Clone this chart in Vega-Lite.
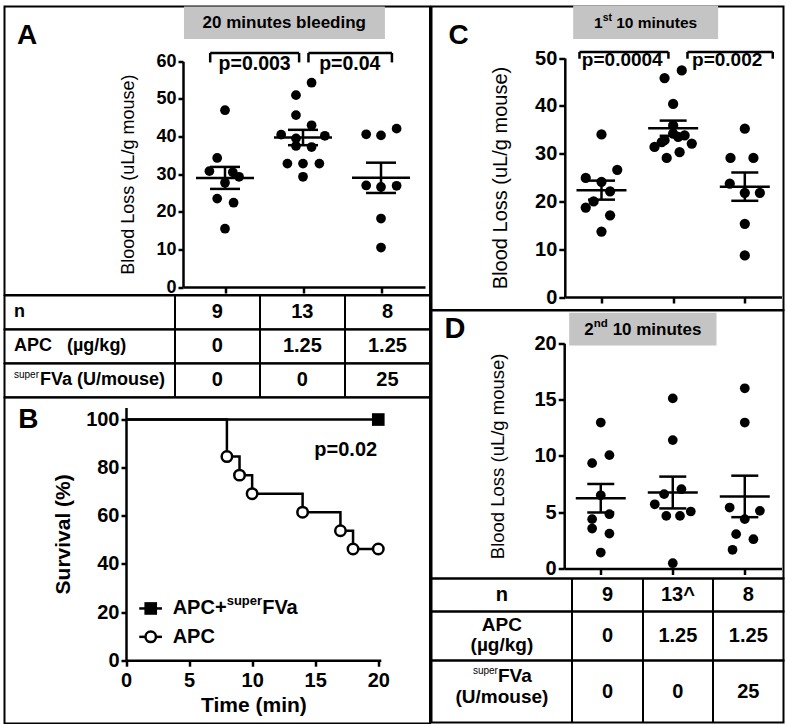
{
"$schema": "https://vega.github.io/schema/vega-lite/v6.json",
"background": "white",
"padding": {"left": 3.5, "top": 3.5, "right": 0, "bottom": 0},
"spacing": -2,
"config": {
 "view": {"stroke": "black", "strokeWidth": 2},
 "font": "Liberation Sans",
 "axis": {"domainColor": "black", "tickColor": "black", "labelColor": "black", "titleColor": "black", "domainWidth": 2.5, "tickWidth": 2.5, "grid": false, "labelFontWeight": "bold", "labelFont": "Liberation Sans", "titleFont": "Liberation Sans", "labelOverlap": false, "labelFlush": false},
 "text": {"color": "black", "fontWeight": "bold", "font": "Liberation Sans"},
 "tick": {"color": "black", "opacity": 1},
 "circle": {"opacity": 1}
},
"datasets": {
 "pts": [
  {"p":"A","g":1,"x":1.0,"v":47.0},{"p":"A","g":1,"x":0.9,"v":34.3},{"p":"A","g":1,"x":0.8,"v":30.8},{"p":"A","g":1,"x":1.1,"v":30.5},{"p":"A","g":1,"x":1.18,"v":29.3},{"p":"A","g":1,"x":1.0,"v":27.7},{"p":"A","g":1,"x":0.9,"v":23.5},{"p":"A","g":1,"x":1.11,"v":22.4},{"p":"A","g":1,"x":1.0,"v":15.5},
  {"p":"A","g":2,"x":2.11,"v":54.3},{"p":"A","g":2,"x":1.91,"v":51.0},{"p":"A","g":2,"x":1.91,"v":45.7},{"p":"A","g":2,"x":2.11,"v":43.0},{"p":"A","g":2,"x":1.72,"v":40.5},{"p":"A","g":2,"x":2.28,"v":40.2},{"p":"A","g":2,"x":1.91,"v":39.5},{"p":"A","g":2,"x":1.91,"v":37.5},{"p":"A","g":2,"x":2.11,"v":37.2},{"p":"A","g":2,"x":1.8,"v":32.8},{"p":"A","g":2,"x":2.0,"v":32.8},{"p":"A","g":2,"x":2.21,"v":32.8},{"p":"A","g":2,"x":2.0,"v":29.3},
  {"p":"A","g":3,"x":2.81,"v":40.6},{"p":"A","g":3,"x":3.0,"v":40.3},{"p":"A","g":3,"x":3.2,"v":42.1},{"p":"A","g":3,"x":2.81,"v":27.0},{"p":"A","g":3,"x":3.0,"v":26.6},{"p":"A","g":3,"x":3.2,"v":26.9},{"p":"A","g":3,"x":3.0,"v":18.2},{"p":"A","g":3,"x":3.0,"v":10.5},
  {"p":"C","g":1,"x":1.0,"v":34.0},{"p":"C","g":1,"x":0.78,"v":24.9},{"p":"C","g":1,"x":1.0,"v":24.1},{"p":"C","g":1,"x":1.22,"v":26.6},{"p":"C","g":1,"x":1.12,"v":22.1},{"p":"C","g":1,"x":0.89,"v":20.0},{"p":"C","g":1,"x":0.78,"v":18.7},{"p":"C","g":1,"x":1.12,"v":17.1},{"p":"C","g":1,"x":1.0,"v":13.7},
  {"p":"C","g":2,"x":1.88,"v":45.8},{"p":"C","g":2,"x":2.12,"v":47.4},{"p":"C","g":2,"x":2.0,"v":40.4},{"p":"C","g":2,"x":2.0,"v":35.9},{"p":"C","g":2,"x":2.0,"v":34.2},{"p":"C","g":2,"x":2.16,"v":33.8},{"p":"C","g":2,"x":2.07,"v":33.5},{"p":"C","g":2,"x":1.88,"v":32.8},{"p":"C","g":2,"x":1.84,"v":32.4},{"p":"C","g":2,"x":2.26,"v":32.1},{"p":"C","g":2,"x":1.74,"v":31.4},{"p":"C","g":2,"x":2.09,"v":30.3},{"p":"C","g":2,"x":1.91,"v":29.1},
  {"p":"C","g":3,"x":3.0,"v":35.2},{"p":"C","g":3,"x":2.8,"v":29.1},{"p":"C","g":3,"x":3.12,"v":29.1},{"p":"C","g":3,"x":2.79,"v":23.7},{"p":"C","g":3,"x":3.0,"v":21.8},{"p":"C","g":3,"x":3.21,"v":21.8},{"p":"C","g":3,"x":3.0,"v":15.3},{"p":"C","g":3,"x":3.0,"v":8.7},
  {"p":"D","g":1,"x":1.0,"v":12.96},{"p":"D","g":1,"x":1.12,"v":10.06},{"p":"D","g":1,"x":0.88,"v":9.35},{"p":"D","g":1,"x":1.0,"v":6.5},{"p":"D","g":1,"x":1.12,"v":4.82},{"p":"D","g":1,"x":0.88,"v":4.38},{"p":"D","g":1,"x":0.88,"v":3.55},{"p":"D","g":1,"x":1.12,"v":3.1},{"p":"D","g":1,"x":1.0,"v":1.42},
  {"p":"D","g":2,"x":2.0,"v":15.1},{"p":"D","g":2,"x":2.0,"v":11.4},{"p":"D","g":2,"x":2.12,"v":7.04},{"p":"D","g":2,"x":1.88,"v":6.6},{"p":"D","g":2,"x":1.75,"v":5.7},{"p":"D","g":2,"x":2.25,"v":5.06},{"p":"D","g":2,"x":1.91,"v":4.67},{"p":"D","g":2,"x":2.1,"v":4.67},{"p":"D","g":2,"x":2.0,"v":0.47},
  {"p":"D","g":3,"x":3.0,"v":16.0},{"p":"D","g":3,"x":3.0,"v":12.96},{"p":"D","g":3,"x":2.79,"v":5.41},{"p":"D","g":3,"x":3.21,"v":5.12},{"p":"D","g":3,"x":3.0,"v":4.38},{"p":"D","g":3,"x":2.88,"v":3.05},{"p":"D","g":3,"x":3.12,"v":2.6},{"p":"D","g":3,"x":2.83,"v":1.66}
 ],
 "br": [
  {"p":"A","x1":0.81,"x2":1.95,"yt":62.2,"yb":59.7,"tx":1.38,"ty":57.8,"t":"p=0.003"},
  {"p":"A","x1":2.07,"x2":3.14,"yt":62.2,"yb":59.7,"tx":2.6,"ty":57.8,"t":"p=0.04"},
  {"p":"C","x1":0.693,"x2":1.934,"yt":51.26,"yb":49.85,"tx":1.29,"ty":48.3,"t":"p=0.0004"},
  {"p":"C","x1":2.2,"x2":3.39,"yt":51.26,"yb":49.85,"tx":2.754,"ty":48.3,"t":"p=0.002"}
 ],
 "surv": [
  {"grp":"APC","t":0,"s":100},{"grp":"APC","t":8,"s":84.6},{"grp":"APC","t":9,"s":76.9},{"grp":"APC","t":10,"s":69.2},{"grp":"APC","t":14,"s":61.5},{"grp":"APC","t":17,"s":53.8},{"grp":"APC","t":18,"s":46.2},{"grp":"APC","t":20,"s":46.2},
  {"grp":"APC+superFVa","t":0,"s":100},{"grp":"APC+superFVa","t":20,"s":100}
 ]
},
"hconcat": [
 {"spacing": 0, "bounds": "flush", "vconcat": [
  {"width": 425.5, "height": 288.5, "layer": [
   {"data": {"values": [{"x1": 0.474, "x2": 3.05, "y1": 65.9, "y2": 74.6}]},
    "mark": {"type": "rect", "color": "#c4c4c4"},
    "encoding": {
     "x": {"field": "x1", "type": "quantitative", "scale": {"domain": [0.4615, 3.564], "range": [178.5, 420.5], "nice": false, "zero": false}, "axis": {"values": [1,2,3], "labels": false, "offset": -8, "tickSize": 6, "title": null}},
     "x2": {"field": "x2"},
     "y": {"field": "y1", "type": "quantitative", "scale": {"domain": [0, 60], "range": [280.5, 54.8], "nice": false, "zero": false}, "axis": {"values": [0,10,20,30,40,50,60], "offset": -178.5, "title": "Blood Loss (uL/g mouse)", "titleFontSize": 18, "titleFontWeight": "normal", "titlePadding": 18, "labelFontSize": 18, "labelPadding": 2, "tickSize": 5}},
     "y2": {"field": "y2"}
    }},
   {"data": {"values": [{"x": 1.76, "y": 70.1, "t": "20 minutes bleeding"}]},
    "mark": {"type": "text", "fontSize": 17},
    "encoding": {"x": {"field": "x", "type": "quantitative"}, "y": {"field": "y", "type": "quantitative"}, "text": {"field": "t"}}},
   {"data": {"values": [{"x": -1.667, "y": 64.6, "t": "A"}]},
    "mark": {"type": "text", "fontSize": 28, "align": "left", "baseline": "alphabetic"},
    "encoding": {"x": {"field": "x", "type": "quantitative"}, "y": {"field": "y", "type": "quantitative"}, "text": {"field": "t"}}},
   {"data": {"name": "br"}, "transform": [{"filter": "datum.p=='A'"}], "layer": [
    {"mark": {"type": "rule", "strokeWidth": 2.5, "color": "black"}, "encoding": {"x": {"field": "x1", "type": "quantitative"}, "x2": {"field": "x2"}, "y": {"field": "yt", "type": "quantitative"}}},
    {"mark": {"type": "rule", "strokeWidth": 2.5, "color": "black"}, "encoding": {"x": {"field": "x1", "type": "quantitative"}, "y": {"field": "yt", "type": "quantitative"}, "y2": {"field": "yb"}}},
    {"mark": {"type": "rule", "strokeWidth": 2.5, "color": "black"}, "encoding": {"x": {"field": "x2", "type": "quantitative"}, "y": {"field": "yt", "type": "quantitative"}, "y2": {"field": "yb"}}},
    {"mark": {"type": "text", "fontSize": 19.5, "baseline": "alphabetic"}, "encoding": {"x": {"field": "tx", "type": "quantitative"}, "y": {"field": "ty", "type": "quantitative"}, "text": {"field": "t"}}}
   ]},
   {"data": {"name": "pts"}, "transform": [{"filter": "datum.p=='A'"}],
    "mark": {"type": "circle", "size": 95, "color": "black", "opacity": 1},
    "encoding": {"x": {"field": "x", "type": "quantitative"}, "y": {"field": "v", "type": "quantitative"}}},
   {"data": {"name": "pts"}, "transform": [{"filter": "datum.p=='A'"}, {"aggregate": [{"op": "mean", "field": "v", "as": "m"}, {"op": "stderr", "field": "v", "as": "se"}], "groupby": ["g"]}, {"calculate": "datum.m-datum.se", "as": "lo"}, {"calculate": "datum.m+datum.se", "as": "hi"}],
    "layer": [
     {"mark": {"type": "tick", "orient": "horizontal", "size": 58, "thickness": 2.5, "opacity": 1}, "encoding": {"x": {"field": "g", "type": "quantitative"}, "y": {"field": "m", "type": "quantitative"}}},
     {"mark": {"type": "rule", "strokeWidth": 2.5, "color": "black"}, "encoding": {"x": {"field": "g", "type": "quantitative"}, "y": {"field": "lo", "type": "quantitative"}, "y2": {"field": "hi"}}},
     {"mark": {"type": "tick", "orient": "horizontal", "size": 30, "thickness": 2.5, "opacity": 1}, "encoding": {"x": {"field": "g", "type": "quantitative"}, "y": {"field": "lo", "type": "quantitative"}}},
     {"mark": {"type": "tick", "orient": "horizontal", "size": 30, "thickness": 2.5, "opacity": 1}, "encoding": {"x": {"field": "g", "type": "quantitative"}, "y": {"field": "hi", "type": "quantitative"}}}
    ]}
  ]},
  {"width": 425.5, "height": 33.67, "layer": [
   {"data": {"values": [{"c": "g1", "t": "9"}, {"c": "g2", "t": "13"}, {"c": "g3", "t": "8"}]},
    "mark": {"type": "text", "fontSize": 20},
    "encoding": {"x": {"field": "c", "type": "nominal", "scale": {"type": "band", "domain": ["h","h2","g1","g2","g3"], "paddingInner": 0, "paddingOuter": 0}, "axis": {"orient": "top", "values": ["g1","g2","g3"], "bandPosition": 0, "grid": true, "gridColor": "black", "gridWidth": 2, "gridOpacity": 1, "labels": false, "ticks": false, "domain": false, "title": null}}, "text": {"field": "t"}}},
   {"data": {"values": [{"c": "h", "t": "n"}]},
    "mark": {"type": "text", "fontSize": 18, "align": "left", "dx": 9.5},
    "encoding": {"x": {"field": "c", "type": "nominal", "bandPosition": 0}, "text": {"field": "t"}}}
  ]},
  {"width": 425.5, "height": 33.67, "layer": [
   {"data": {"values": [{"c": "g1", "t": "0"}, {"c": "g2", "t": "1.25"}, {"c": "g3", "t": "1.25"}]},
    "mark": {"type": "text", "fontSize": 20},
    "encoding": {"x": {"field": "c", "type": "nominal", "scale": {"type": "band", "domain": ["h","h2","g1","g2","g3"], "paddingInner": 0, "paddingOuter": 0}, "axis": {"orient": "top", "values": ["g1","g2","g3"], "bandPosition": 0, "grid": true, "gridColor": "black", "gridWidth": 2, "gridOpacity": 1, "labels": false, "ticks": false, "domain": false, "title": null}}, "text": {"field": "t"}}},
   {"data": {"values": [{"c": "h", "t": "APC\u00a0\u00a0\u00a0(µg/kg)"}]},
    "mark": {"type": "text", "fontSize": 18, "align": "left", "dx": 9.5},
    "encoding": {"x": {"field": "c", "type": "nominal", "bandPosition": 0}, "text": {"field": "t"}}}
  ]},
  {"width": 425.5, "height": 33.66, "layer": [
   {"data": {"values": [{"c": "g1", "t": "0"}, {"c": "g2", "t": "0"}, {"c": "g3", "t": "25"}]},
    "mark": {"type": "text", "fontSize": 20},
    "encoding": {"x": {"field": "c", "type": "nominal", "scale": {"type": "band", "domain": ["h","h2","g1","g2","g3"], "paddingInner": 0, "paddingOuter": 0}, "axis": {"orient": "top", "values": ["g1","g2","g3"], "bandPosition": 0, "grid": true, "gridColor": "black", "gridWidth": 2, "gridOpacity": 1, "labels": false, "ticks": false, "domain": false, "title": null}}, "text": {"field": "t"}}},
   {"data": {"values": [{"c": "h", "t": "super"}]},
    "mark": {"type": "text", "fontSize": 10, "fontWeight": "normal", "align": "left", "dx": 9.5, "dy": -5},
    "encoding": {"x": {"field": "c", "type": "nominal", "bandPosition": 0}, "text": {"field": "t"}}},
   {"data": {"values": [{"c": "h", "t": "FVa (U/mouse)"}]},
    "mark": {"type": "text", "fontSize": 18, "align": "left", "dx": 35.5},
    "encoding": {"x": {"field": "c", "type": "nominal", "bandPosition": 0}, "text": {"field": "t"}}}
  ]},
  {"width": 425.5, "height": 326, "layer": [
   {"data": {"name": "surv"}, "transform": [{"filter": "datum.grp=='APC+superFVa'"}],
    "mark": {"type": "line", "interpolate": "step-after", "strokeWidth": 2.5, "color": "black"},
    "encoding": {
     "x": {"field": "t", "type": "quantitative", "scale": {"domain": [0, 20.2], "range": [121.5, 376.3], "nice": false, "zero": false}, "axis": {"values": [0,5,10,15,20], "offset": -63.3, "tickSize": 6, "labelFontSize": 20, "labelPadding": 4, "title": "Time (min)", "titleFontSize": 21, "titleFontWeight": "bold", "titlePadding": 4}},
     "y": {"field": "s", "type": "quantitative", "scale": {"domain": [0, 105], "range": [262.7, 10], "nice": false, "zero": false}, "axis": {"values": [0,20,40,60,80,100], "offset": -121.5, "tickSize": 5, "labelFontSize": 20, "labelPadding": 2, "title": "Survival (%)", "titleFontSize": 21, "titleFontWeight": "bold", "titlePadding": 12}}
    }},
   {"data": {"name": "surv"}, "transform": [{"filter": "datum.grp=='APC'"}],
    "mark": {"type": "line", "interpolate": "step-after", "strokeWidth": 2.5, "color": "black"},
    "encoding": {"x": {"field": "t", "type": "quantitative"}, "y": {"field": "s", "type": "quantitative"}}},
   {"data": {"name": "surv"}, "transform": [{"filter": "datum.grp=='APC+superFVa' && datum.t>0"}],
    "mark": {"type": "point", "shape": "square", "filled": true, "color": "black", "size": 160, "opacity": 1},
    "encoding": {"x": {"field": "t", "type": "quantitative"}, "y": {"field": "s", "type": "quantitative"}}},
   {"data": {"name": "surv"}, "transform": [{"filter": "datum.grp=='APC' && datum.t>0"}],
    "mark": {"type": "point", "shape": "circle", "filled": true, "fill": "white", "stroke": "black", "strokeWidth": 2.5, "size": 110, "opacity": 1},
    "encoding": {"x": {"field": "t", "type": "quantitative"}, "y": {"field": "s", "type": "quantitative"}}},
   {"data": {"values": [{"x1": 1.05, "x2": 2.85, "y": 21.5}, {"x1": 1.05, "x2": 2.85, "y": 9.7}]},
    "mark": {"type": "rule", "strokeWidth": 2.5, "color": "black"},
    "encoding": {"x": {"field": "x1", "type": "quantitative"}, "x2": {"field": "x2"}, "y": {"field": "y", "type": "quantitative"}}},
   {"data": {"values": [{"x": 1.96, "y": 21.5}]},
    "mark": {"type": "point", "shape": "square", "filled": true, "color": "black", "size": 160, "opacity": 1},
    "encoding": {"x": {"field": "x", "type": "quantitative"}, "y": {"field": "y", "type": "quantitative"}}},
   {"data": {"values": [{"x": 1.96, "y": 9.7}]},
    "mark": {"type": "point", "shape": "circle", "filled": true, "fill": "white", "stroke": "black", "strokeWidth": 2.5, "size": 110, "opacity": 1},
    "encoding": {"x": {"field": "x", "type": "quantitative"}, "y": {"field": "y", "type": "quantitative"}}},
   {"data": {"values": [{"x": 3.7, "y": 21.5, "a": "APC+", "b": "super", "c": "FVa"}]},
    "layer": [
     {"mark": {"type": "text", "fontSize": 20, "align": "left"}, "encoding": {"x": {"field": "x", "type": "quantitative"}, "y": {"field": "y", "type": "quantitative"}, "text": {"field": "a"}}},
     {"mark": {"type": "text", "fontSize": 13, "align": "left", "dx": 54, "dy": -7}, "encoding": {"x": {"field": "x", "type": "quantitative"}, "y": {"field": "y", "type": "quantitative"}, "text": {"field": "b"}}},
     {"mark": {"type": "text", "fontSize": 20, "align": "left", "dx": 89.5}, "encoding": {"x": {"field": "x", "type": "quantitative"}, "y": {"field": "y", "type": "quantitative"}, "text": {"field": "c"}}}
    ]},
   {"data": {"values": [{"x": 3.7, "y": 9.7, "t": "APC"}]},
    "mark": {"type": "text", "fontSize": 20, "align": "left"},
    "encoding": {"x": {"field": "x", "type": "quantitative"}, "y": {"field": "y", "type": "quantitative"}, "text": {"field": "t"}}},
   {"data": {"values": [{"x": 17.42, "y": 87.2, "t": "p=0.02"}]},
    "mark": {"type": "text", "fontSize": 20},
    "encoding": {"x": {"field": "x", "type": "quantitative"}, "y": {"field": "y", "type": "quantitative"}, "text": {"field": "t"}}},
   {"data": {"values": [{"x": -8.54, "y": 96.6, "t": "B"}]},
    "mark": {"type": "text", "fontSize": 28, "align": "left", "baseline": "alphabetic"},
    "encoding": {"x": {"field": "x", "type": "quantitative"}, "y": {"field": "y", "type": "quantitative"}, "text": {"field": "t"}}}
  ]}
 ]},
 {"spacing": 0, "bounds": "flush", "vconcat": [
  {"width": 352, "height": 303.5, "layer": [
   {"data": {"values": [{"x1": 0.605, "x2": 2.627, "y1": 54.0, "y2": 61.0}]},
    "mark": {"type": "rect", "color": "#c4c4c4"},
    "encoding": {
     "x": {"field": "x1", "type": "quantitative", "scale": {"domain": [0.488, 3.512], "range": [133.3, 350], "nice": false, "zero": false}, "axis": {"values": [1,2,3], "labels": false, "offset": -13, "tickSize": 6, "title": null}},
     "x2": {"field": "x2"},
     "y": {"field": "y1", "type": "quantitative", "scale": {"domain": [0, 50], "range": [290.5, 51.5], "nice": false, "zero": false}, "axis": {"values": [0,10,20,30,40,50], "offset": -133.3, "title": "Blood Loss (uL/g mouse)", "titleFontSize": 20, "titleFontWeight": "normal", "titlePadding": 24, "labelFontSize": 20, "labelPadding": 2, "tickSize": 6}},
     "y2": {"field": "y2"}
    }},
   {"data": {"values": [{"x": 1.616, "y": 57.4, "a": "1", "b": "st", "c": "10 minutes"}]},
    "layer": [
     {"mark": {"type": "text", "fontSize": 15.5, "align": "left", "dx": -51.6}, "encoding": {"x": {"field": "x", "type": "quantitative"}, "y": {"field": "y", "type": "quantitative"}, "text": {"field": "a"}}},
     {"mark": {"type": "text", "fontSize": 10.5, "align": "left", "dx": -43, "dy": -5}, "encoding": {"x": {"field": "x", "type": "quantitative"}, "y": {"field": "y", "type": "quantitative"}, "text": {"field": "b"}}},
     {"mark": {"type": "text", "fontSize": 15.5, "align": "left", "dx": -29.4}, "encoding": {"x": {"field": "x", "type": "quantitative"}, "y": {"field": "y", "type": "quantitative"}, "text": {"field": "c"}}}
    ]},
   {"data": {"values": [{"x": -1.134, "y": 52.9, "t": "C"}]},
    "mark": {"type": "text", "fontSize": 28, "align": "left", "baseline": "alphabetic"},
    "encoding": {"x": {"field": "x", "type": "quantitative"}, "y": {"field": "y", "type": "quantitative"}, "text": {"field": "t"}}},
   {"data": {"name": "br"}, "transform": [{"filter": "datum.p=='C'"}], "layer": [
    {"mark": {"type": "rule", "strokeWidth": 2.5, "color": "black"}, "encoding": {"x": {"field": "x1", "type": "quantitative"}, "x2": {"field": "x2"}, "y": {"field": "yt", "type": "quantitative"}}},
    {"mark": {"type": "rule", "strokeWidth": 2.5, "color": "black"}, "encoding": {"x": {"field": "x1", "type": "quantitative"}, "y": {"field": "yt", "type": "quantitative"}, "y2": {"field": "yb"}}},
    {"mark": {"type": "rule", "strokeWidth": 2.5, "color": "black"}, "encoding": {"x": {"field": "x2", "type": "quantitative"}, "y": {"field": "yt", "type": "quantitative"}, "y2": {"field": "yb"}}},
    {"mark": {"type": "text", "fontSize": 19, "baseline": "alphabetic"}, "encoding": {"x": {"field": "tx", "type": "quantitative"}, "y": {"field": "ty", "type": "quantitative"}, "text": {"field": "t"}}}
   ]},
   {"data": {"name": "pts"}, "transform": [{"filter": "datum.p=='C'"}],
    "mark": {"type": "circle", "size": 105, "color": "black", "opacity": 1},
    "encoding": {"x": {"field": "x", "type": "quantitative"}, "y": {"field": "v", "type": "quantitative"}}},
   {"data": {"name": "pts"}, "transform": [{"filter": "datum.p=='C'"}, {"aggregate": [{"op": "mean", "field": "v", "as": "m"}, {"op": "stderr", "field": "v", "as": "se"}], "groupby": ["g"]}, {"calculate": "datum.m-datum.se", "as": "lo"}, {"calculate": "datum.m+datum.se", "as": "hi"}],
    "layer": [
     {"mark": {"type": "tick", "orient": "horizontal", "size": 50, "thickness": 2.5, "opacity": 1}, "encoding": {"x": {"field": "g", "type": "quantitative"}, "y": {"field": "m", "type": "quantitative"}}},
     {"mark": {"type": "rule", "strokeWidth": 2.5, "color": "black"}, "encoding": {"x": {"field": "g", "type": "quantitative"}, "y": {"field": "lo", "type": "quantitative"}, "y2": {"field": "hi"}}},
     {"mark": {"type": "tick", "orient": "horizontal", "size": 27, "thickness": 2.5, "opacity": 1}, "encoding": {"x": {"field": "g", "type": "quantitative"}, "y": {"field": "lo", "type": "quantitative"}}},
     {"mark": {"type": "tick", "orient": "horizontal", "size": 27, "thickness": 2.5, "opacity": 1}, "encoding": {"x": {"field": "g", "type": "quantitative"}, "y": {"field": "hi", "type": "quantitative"}}}
    ]}
  ]},
  {"width": 352, "height": 268, "layer": [
   {"data": {"values": [{"x1": 0.561, "x2": 2.607, "y1": 19.8, "y2": 22.7}]},
    "mark": {"type": "rect", "color": "#c4c4c4"},
    "encoding": {
     "x": {"field": "x1", "type": "quantitative", "scale": {"domain": [0.492, 3.51], "range": [132.7, 350], "nice": false, "zero": false}, "axis": {"values": [1,2,3], "labels": false, "offset": -10, "tickSize": 6, "title": null}},
     "x2": {"field": "x2"},
     "y": {"field": "y1", "type": "quantitative", "scale": {"domain": [0, 20], "range": [258, 32.7], "nice": false, "zero": false}, "axis": {"values": [0,5,10,15,20], "offset": -132.7, "title": "Blood Loss (uL/g mouse)", "titleFontSize": 18.5, "titleFontWeight": "normal", "titlePadding": 26, "labelFontSize": 20, "labelPadding": 2, "tickSize": 6}},
     "y2": {"field": "y2"}
    }},
   {"data": {"values": [{"x": 1.584, "y": 21.2, "a": "2", "b": "nd", "c": "10 minutes"}]},
    "layer": [
     {"mark": {"type": "text", "fontSize": 17, "align": "left", "dx": -58.5}, "encoding": {"x": {"field": "x", "type": "quantitative"}, "y": {"field": "y", "type": "quantitative"}, "text": {"field": "a"}}},
     {"mark": {"type": "text", "fontSize": 11.5, "align": "left", "dx": -49, "dy": -5.5}, "encoding": {"x": {"field": "x", "type": "quantitative"}, "y": {"field": "y", "type": "quantitative"}, "text": {"field": "b"}}},
     {"mark": {"type": "text", "fontSize": 17, "align": "left", "dx": -30.2}, "encoding": {"x": {"field": "x", "type": "quantitative"}, "y": {"field": "y", "type": "quantitative"}, "text": {"field": "c"}}}
    ]},
   {"data": {"values": [{"x": -1.17, "y": 20.5, "t": "D"}]},
    "mark": {"type": "text", "fontSize": 29, "align": "left", "baseline": "alphabetic"},
    "encoding": {"x": {"field": "x", "type": "quantitative"}, "y": {"field": "y", "type": "quantitative"}, "text": {"field": "t"}}},
   {"data": {"name": "pts"}, "transform": [{"filter": "datum.p=='D'"}],
    "mark": {"type": "circle", "size": 95, "color": "black", "opacity": 1},
    "encoding": {"x": {"field": "x", "type": "quantitative"}, "y": {"field": "v", "type": "quantitative"}}},
   {"data": {"name": "pts"}, "transform": [{"filter": "datum.p=='D'"}, {"aggregate": [{"op": "mean", "field": "v", "as": "m"}, {"op": "stderr", "field": "v", "as": "se"}], "groupby": ["g"]}, {"calculate": "datum.m-datum.se", "as": "lo"}, {"calculate": "datum.m+datum.se", "as": "hi"}],
    "layer": [
     {"mark": {"type": "tick", "orient": "horizontal", "size": 50, "thickness": 2.5, "opacity": 1}, "encoding": {"x": {"field": "g", "type": "quantitative"}, "y": {"field": "m", "type": "quantitative"}}},
     {"mark": {"type": "rule", "strokeWidth": 2.5, "color": "black"}, "encoding": {"x": {"field": "g", "type": "quantitative"}, "y": {"field": "lo", "type": "quantitative"}, "y2": {"field": "hi"}}},
     {"mark": {"type": "tick", "orient": "horizontal", "size": 27, "thickness": 2.5, "opacity": 1}, "encoding": {"x": {"field": "g", "type": "quantitative"}, "y": {"field": "lo", "type": "quantitative"}}},
     {"mark": {"type": "tick", "orient": "horizontal", "size": 27, "thickness": 2.5, "opacity": 1}, "encoding": {"x": {"field": "g", "type": "quantitative"}, "y": {"field": "hi", "type": "quantitative"}}}
    ]}
  ]},
  {"width": 352, "height": 33, "layer": [
   {"data": {"values": [{"c": "g1", "t": "9"}, {"c": "g2", "t": "13^"}, {"c": "g3", "t": "8"}]},
    "mark": {"type": "text", "fontSize": 20},
    "encoding": {"x": {"field": "c", "type": "nominal", "scale": {"type": "band", "domain": ["h","h2","g1","g2","g3"], "paddingInner": 0, "paddingOuter": 0}, "axis": {"orient": "top", "values": ["g1","g2","g3"], "bandPosition": 0, "grid": true, "gridColor": "black", "gridWidth": 2, "gridOpacity": 1, "labels": false, "ticks": false, "domain": false, "title": null}}, "text": {"field": "t"}}},
   {"data": {"values": [{"c": "h", "t": "n"}]},
    "mark": {"type": "text", "fontSize": 20},
    "encoding": {"x": {"field": "c", "type": "nominal", "bandPosition": 1}, "text": {"field": "t"}}}
  ]},
  {"width": 352, "height": 49, "layer": [
   {"data": {"values": [{"c": "g1", "t": "0"}, {"c": "g2", "t": "1.25"}, {"c": "g3", "t": "1.25"}]},
    "mark": {"type": "text", "fontSize": 20},
    "encoding": {"x": {"field": "c", "type": "nominal", "scale": {"type": "band", "domain": ["h","h2","g1","g2","g3"], "paddingInner": 0, "paddingOuter": 0}, "axis": {"orient": "top", "values": ["g1","g2","g3"], "bandPosition": 0, "grid": true, "gridColor": "black", "gridWidth": 2, "gridOpacity": 1, "labels": false, "ticks": false, "domain": false, "title": null}}, "text": {"field": "t"}}},
   {"data": {"values": [{"c": "h", "t": "APC\n(µg/kg)"}]},
    "mark": {"type": "text", "fontSize": 19, "lineBreak": "\n", "lineHeight": 20, "dy": -11},
    "encoding": {"x": {"field": "c", "type": "nominal", "bandPosition": 1}, "text": {"field": "t"}}}
  ]},
  {"width": 352, "height": 62, "layer": [
   {"data": {"values": [{"c": "g1", "t": "0"}, {"c": "g2", "t": "0"}, {"c": "g3", "t": "25"}]},
    "mark": {"type": "text", "fontSize": 20},
    "encoding": {"x": {"field": "c", "type": "nominal", "scale": {"type": "band", "domain": ["h","h2","g1","g2","g3"], "paddingInner": 0, "paddingOuter": 0}, "axis": {"orient": "top", "values": ["g1","g2","g3"], "bandPosition": 0, "grid": true, "gridColor": "black", "gridWidth": 2, "gridOpacity": 1, "labels": false, "ticks": false, "domain": false, "title": null}}, "text": {"field": "t"}}},
   {"data": {"values": [{"c": "h", "t": "super"}]},
    "mark": {"type": "text", "fontSize": 10, "fontWeight": "normal", "align": "right", "dx": -4, "dy": -21},
    "encoding": {"x": {"field": "c", "type": "nominal", "bandPosition": 1}, "text": {"field": "t"}}},
   {"data": {"values": [{"c": "h", "t": "FVa"}]},
    "mark": {"type": "text", "fontSize": 19, "align": "left", "dx": -4, "dy": -16},
    "encoding": {"x": {"field": "c", "type": "nominal", "bandPosition": 1}, "text": {"field": "t"}}},
   {"data": {"values": [{"c": "h", "t": "(U/mouse)"}]},
    "mark": {"type": "text", "fontSize": 19, "dy": 5},
    "encoding": {"x": {"field": "c", "type": "nominal", "bandPosition": 1}, "text": {"field": "t"}}}
  ]}
 ]}
]
}
